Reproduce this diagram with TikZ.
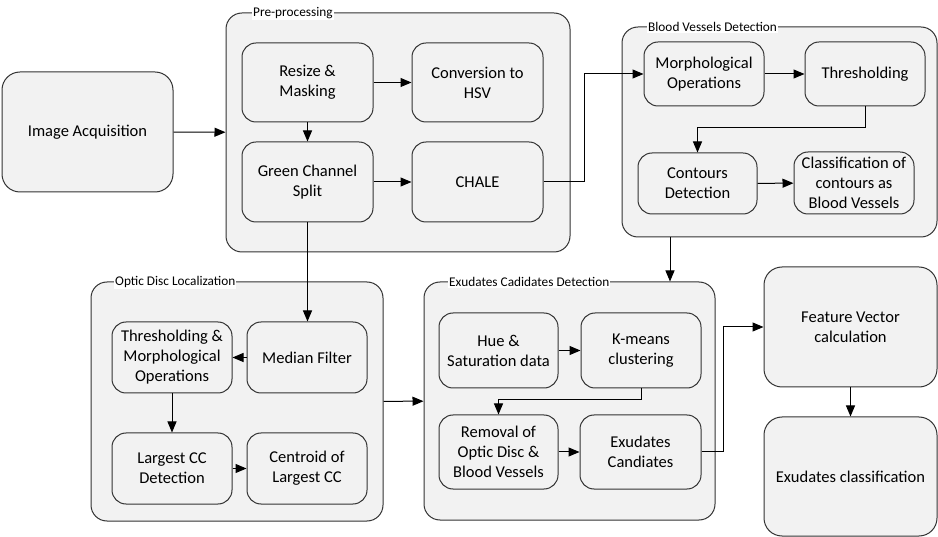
\documentclass[tikz,border=0pt]{standalone}
\usepackage{fontspec}
\setmainfont{Carlito}
\usepackage{tikz}
\usetikzlibrary{arrows.meta}

\definecolor{boxfill}{HTML}{F2F2F2}
\definecolor{boxline}{HTML}{333333}

\begin{document}
\begin{tikzpicture}[x=1pt,y=-1pt,
		box/.style={draw=boxline,line width=1pt,fill=boxfill,rounded corners=14pt,align=center,inner sep=0pt,font=\fontsize{16.5}{20}\selectfont},
		group/.style={box,rounded corners=16pt},
		grouptitle/.style={anchor=west,fill=white,inner sep=1pt,font=\fontsize{13.3}{15}\selectfont},
		arr/.style={-{Triangle[length=11pt,width=9pt]},line width=1pt}]
		\useasboundingbox (0,0) rectangle (938,537);

		\node[group,minimum width=344pt,minimum height=239pt] (pre) at (398,132.5) {};
		\node[group,minimum width=315pt,minimum height=210pt] (bvd) at (779.5,132) {};
		\node[group,minimum width=292pt,minimum height=239pt] (odl) at (237,401.5) {};
		\node[group,minimum width=291pt,minimum height=238pt] (exd) at (569.5,401) {};

		\node[grouptitle] (pretitle) at (252,13) {Pre-processing};
		\node[grouptitle] (bvdtitle) at (647,27) {Blood Vessels Detection};
		\node[grouptitle] (odltitle) at (114,282) {Optic Disc Localization};
		\node[grouptitle] (exdtitle) at (448,282) {Exudates Cadidates Detection};

		\node[box,minimum width=171pt,minimum height=120pt,rounded corners=18pt] (img) at (87.5,132) {Image Acquisition};

		\node[box,minimum width=131pt,minimum height=79pt] (resize) at (307.5,82.5) {Resize \&\\Masking};
		\node[box,minimum width=131pt,minimum height=79pt] (hsv) at (477.5,82.5) {Conversion to\\HSV};
		\node[box,minimum width=131pt,minimum height=80pt] (green) at (307.5,182) {Green Channel\\Split};
		\node[box,minimum width=131pt,minimum height=80pt] (chale) at (477.5,182) {CHALE};

		\node[box,minimum width=120pt,minimum height=64pt] (morph) at (704,74) {Morphological\\Operations};
		\node[box,minimum width=120pt,minimum height=64pt] (thresh) at (865,74) {Thresholding};
		\node[box,minimum width=119pt,minimum height=61pt] (contours) at (697.5,183.5) {Contours\\Detection};
		\node[box,minimum width=120pt,minimum height=62pt] (classif) at (854,183) {Classification of\\contours as\\Blood Vessels};

		\node[box,minimum width=120pt,minimum height=71pt] (othm) at (172,357.5) {Thresholding \&\\Morphological\\Operations};
		\node[box,minimum width=120pt,minimum height=71pt] (median) at (307,357.5) {Median Filter};
		\node[box,minimum width=120pt,minimum height=71pt] (lcc) at (172,468.5) {Largest CC\\Detection};
		\node[box,minimum width=120pt,minimum height=71pt] (centroid) at (307,468.5) {Centroid of\\Largest CC};

		\node[box,minimum width=119pt,minimum height=75pt] (hue) at (498.5,350.5) {Hue \&\\Saturation data};
		\node[box,minimum width=120pt,minimum height=75pt] (kmeans) at (641,350.5) {K-means\\clustering};
		\node[box,minimum width=119pt,minimum height=74pt] (removal) at (498.5,452) {Removal of\\Optic Disc \&\\Blood Vessels};
		\node[box,minimum width=121pt,minimum height=74pt] (excand) at (640.5,452) {Exudates\\Candiates};

		\node[box,minimum width=173pt,minimum height=120pt,rounded corners=18pt] (feat) at (850.5,327) {Feature Vector\\calculation};
		\node[box,minimum width=173pt,minimum height=119pt,rounded corners=18pt] (excls) at (850.5,476.5) {Exudates classification};

		\coordinate (bvdout) at (670,237);

		\draw[arr] (img) -- (pre);
		\draw[arr] (resize) -- (hsv);
		\draw[arr] (resize) -- (green);
		\draw[arr] (green) -- (chale);
		\draw[arr] (chale.east) -- ++(41,0) |- (morph);
		\draw[arr] (morph) -- (thresh);
		\draw[arr] (thresh.south) -- ++(0,21) -| (contours.north);
		\draw[arr] (contours) -- (classif);
		\draw[arr] (bvdout) -- (bvdout |- exd.north);
		\draw[arr] (green) -- (green |- median.north);
		\draw[arr] (median) -- (othm);
		\draw[arr] (othm) -- (lcc);
		\draw[arr] (lcc) -- (centroid);
		\draw[arr] (odl) -- (exd);
		\draw[arr] (hue) -- (kmeans);
		\draw[arr] (kmeans.south) -- ++(0,11) -| (removal.north);
		\draw[arr] (removal) -- (excand);
		\draw[arr] (excand.east) -- ++(22,0) |- (feat);
		\draw[arr] (feat) -- (excls);
	\end{tikzpicture}
\end{document}
